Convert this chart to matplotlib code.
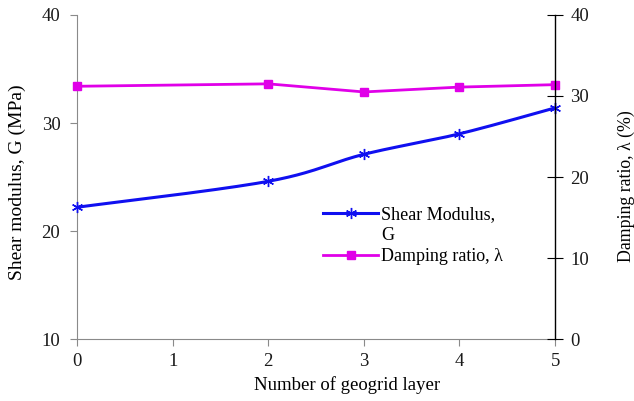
import numpy as np
import matplotlib
matplotlib.use("Agg")
import matplotlib.pyplot as plt
from matplotlib.lines import Line2D

# geogrid layers tested
layers = [0, 2, 3, 4, 5]
shear_modulus = [22.2, 24.6, 27.1, 29.0, 31.4]     # G (MPa)
damping_ratio = [31.2, 31.5, 30.5, 31.1, 31.4]     # lambda (%)

x_ticks = [0, 1, 2, 3, 4, 5]
left_ticks = [10, 20, 30, 40]
right_ticks = [0, 10, 20, 30, 40]

blue = "#1010f0"
magenta = "#e000e8"
grey = "#8a8a8a"
serif = "Liberation Serif"


def smooth_curve(x, y, n=40):
    # spreadsheet-style smoothed line: cubic bezier through each pair of points
    x = np.asarray(x, float)
    y = np.asarray(y, float)
    px, py = [], []
    for i in range(len(x) - 1):
        i0 = max(i - 1, 0)
        i3 = min(i + 2, len(x) - 1)
        c1x = x[i] + (x[i + 1] - x[i0]) / 6
        c1y = y[i] + (y[i + 1] - y[i0]) / 6
        c2x = x[i + 1] - (x[i3] - x[i]) / 6
        c2y = y[i + 1] - (y[i3] - y[i]) / 6
        t = np.linspace(0, 1, n)
        b0 = (1 - t)**3
        b1 = 3*(1 - t)**2*t
        b2 = 3*(1 - t)*t**2
        b3 = t**3
        px.extend(b0*x[i] + b1*c1x + b2*c2x + b3*x[i + 1])
        py.extend(b0*y[i] + b1*c1y + b2*c2y + b3*y[i + 1])
    return np.array(px), np.array(py)


fig = plt.figure(figsize=(6.34, 4.01), dpi=100)
ax = fig.add_axes([0.1215, 0.1546, 0.754, 0.808])
ax2 = ax.twinx()

asterisk = (6, 2, 0)

sx, sy = smooth_curve(layers, shear_modulus)
ax.plot(sx, sy, color=blue, lw=2.2, zorder=3)
ax.plot(layers, shear_modulus, linestyle="none", marker=asterisk, ms=8,
        mec=blue, mew=1.0, zorder=4, clip_on=False)

ax2.plot(layers, damping_ratio, color=magenta, lw=2.0, marker="s", ms=5.5,
         mfc=magenta, mec=magenta, clip_on=False)

ax.set_xlim(0, 5)
ax.set_ylim(10, 40)
ax2.set_ylim(0, 40)
ax.set_xticks(x_ticks)
ax.set_yticks(left_ticks)
ax2.set_yticks(right_ticks)

ax.spines["top"].set_visible(False)
ax2.spines["top"].set_visible(False)
ax.spines["right"].set_visible(False)
ax2.spines["left"].set_visible(False)
ax2.spines["bottom"].set_visible(False)
ax.spines["left"].set_color(grey)
ax.spines["bottom"].set_color(grey)
ax2.spines["right"].set_color("black")
ax2.spines["right"].set_linewidth(1.0)

ax.tick_params(axis="y", direction="out", length=5, color=grey, pad=7)
ax.tick_params(axis="x", direction="out", length=5, color=grey, pad=5)
ax2.tick_params(axis="y", direction="inout", length=12, color="black", pad=5)

for lbl in ax.get_yticklabels() + ax.get_xticklabels() + ax2.get_yticklabels():
    lbl.set_fontfamily(serif)
    lbl.set_fontsize(13.5)
    lbl.set_color("#1a1a1a")

ax.set_xlabel("Number of geogrid layer", fontfamily=serif, fontsize=13.5)
ax.xaxis.set_label_coords(0.565, -0.115)
ax.set_ylabel("Shear modulus, G (MPa)", fontfamily=serif, fontsize=14)
ax.yaxis.set_label_coords(-0.107, 0.485)
ax2.set_ylabel("Damping ratio, λ (%)", fontfamily=serif, fontsize=12.8, rotation=90)
ax2.yaxis.set_label_coords(1.132, 0.472)

handles = [
    Line2D([], [], color=blue, lw=2.2, marker=asterisk, ms=8, mec=blue, mew=1.0),
    Line2D([], [], color="none"),
    Line2D([], [], color=magenta, lw=2.0, marker="s", ms=5.5, mfc=magenta, mec=magenta),
]
labels = ["Shear Modulus,", "G", "Damping ratio, λ"]
ax2.legend(handles, labels, loc="upper left", bbox_to_anchor=(0.515, 0.41),
           frameon=False, prop={"family": serif, "size": 13},
           handlelength=3.05, handletextpad=0.17, labelspacing=0.22,
           borderpad=0, borderaxespad=0)

fig.savefig("out.png", dpi=100)
